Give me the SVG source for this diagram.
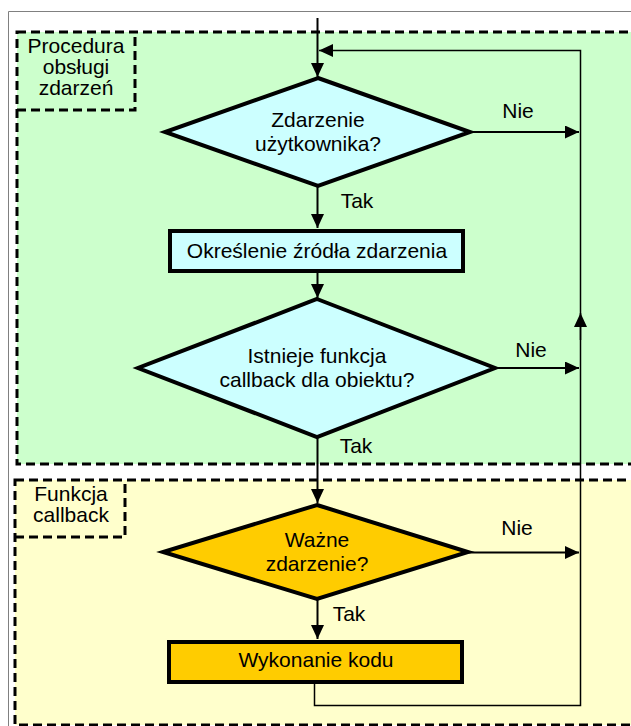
<svg xmlns="http://www.w3.org/2000/svg" width="631" height="726" viewBox="0 0 631 726">
<style>
text{font-family:"Liberation Sans",Arial,sans-serif;font-size:21px;fill:#000;text-anchor:middle}
.dash{stroke:#000;stroke-width:3;stroke-dasharray:9 5}
.node{stroke:#000;stroke-width:4;stroke-linejoin:miter}
.con{fill:none;stroke:#000;stroke-width:2}
.loop{fill:none;stroke:#000;stroke-width:1.5}
</style>
<defs>
<marker id="ah" markerUnits="userSpaceOnUse" markerWidth="15" markerHeight="13" refX="14" refY="6.5" orient="auto">
<path d="M0,0 L14,6.5 L0,13 z" fill="#000"/>
</marker>
</defs>
<rect width="631" height="726" fill="#fff"/>
<g id="frame">
<path d="M8.5,726 V11.5 H631" fill="none" stroke="#808080" stroke-width="1"/>
</g>
<g id="region-procedura">
<rect x="17" y="32" width="640" height="432" fill="#CCFFCC" class="dash"/>
<path d="M17,110 H135 V32" fill="none" class="dash"/>
<text x="76" y="53">Procedura</text>
<text x="76" y="74">obsługi</text>
<text x="76" y="95">zdarzeń</text>
</g>
<g id="region-callback">
<rect x="15" y="480" width="640" height="245" fill="#FFFFCC" class="dash"/>
<path d="M15,537 H125 V480" fill="none" class="dash"/>
<text x="71" y="501">Funkcja</text>
<text x="71" y="522">callback</text>
</g>
<g id="connectors">
<path class="con" d="M317.5,18 V77" marker-end="url(#ah)"/>
<path class="loop" d="M314.5,683 V705.5 H580.5 V50.5 H319" marker-end="url(#ah)"/>
<path class="loop" d="M580.5,340 V313"/>
<path d="M580.5,313 L574,327 L587,327 z" fill="#000"/>
<path class="con" d="M470,132 H579" marker-end="url(#ah)"/>
<path class="con" d="M495,368 H579" marker-end="url(#ah)"/>
<path class="con" d="M468,552.5 H579" marker-end="url(#ah)"/>
<path class="con" d="M317.5,186 V228" marker-end="url(#ah)"/>
<path class="con" d="M317.5,272 V298" marker-end="url(#ah)"/>
<path class="con" d="M317.5,437 V503" marker-end="url(#ah)"/>
<path class="con" d="M317.5,599 V639" marker-end="url(#ah)"/>
<text x="518" y="118">Nie</text>
<text x="531" y="357">Nie</text>
<text x="517" y="535">Nie</text>
<text x="357" y="208">Tak</text>
<text x="356" y="453">Tak</text>
<text x="349" y="621">Tak</text>
</g>
<g id="decision-user-event">
<polygon class="node" points="318,78 470,132 318,186 165,132" fill="#CCFFFF"/>
<text x="318" y="127">Zdarzenie</text>
<text x="318" y="151">użytkownika?</text>
</g>
<g id="process-source">
<rect class="node" x="170" y="231" width="293" height="40" fill="#CCFFFF"/>
<text x="317" y="258">Określenie źródła zdarzenia</text>
</g>
<g id="decision-callback">
<polygon class="node" points="317,299 495,368 317,437 138,368" fill="#CCFFFF"/>
<text x="317" y="363">Istnieje funkcja</text>
<text x="317" y="387">callback dla obiektu?</text>
</g>
<g id="decision-important">
<polygon class="node" points="317,505 468,552 317,599 163,552" fill="#FFCC00"/>
<text x="317" y="547">Ważne</text>
<text x="317" y="571">zdarzenie?</text>
</g>
<g id="process-execute">
<rect class="node" x="169" y="642" width="293" height="40" fill="#FFCC00"/>
<text x="316" y="667">Wykonanie kodu</text>
</g>
</svg>
